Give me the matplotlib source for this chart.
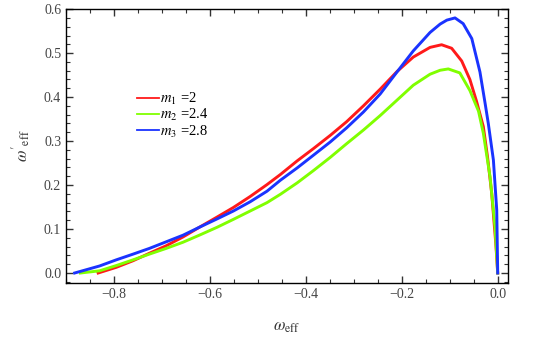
import matplotlib
matplotlib.use("Agg")
import matplotlib.pyplot as plt
from matplotlib.ticker import MultipleLocator, FuncFormatter

plt.rcParams['font.family'] = ['Liberation Serif', 'DejaVu Serif']
plt.rcParams['mathtext.fontset'] = 'stix'

# m1 = 2 (red)
w_m1 = [-0.833, -0.795, -0.760, -0.726, -0.691, -0.656, -0.622, -0.587, -0.551, -0.516,
        -0.481, -0.453, -0.418, -0.384, -0.349, -0.315, -0.280, -0.245, -0.210, -0.176,
        -0.141, -0.117, -0.096, -0.075, -0.058, -0.044, -0.030, -0.021, -0.0125, -0.004, 0.0]
v_m1 = [0.0, 0.013, 0.028, 0.045, 0.062, 0.082, 0.104, 0.126, 0.149, 0.174,
        0.201, 0.224, 0.255, 0.283, 0.313, 0.344, 0.380, 0.418, 0.458, 0.491,
        0.513, 0.519, 0.511, 0.482, 0.440, 0.390, 0.333, 0.262, 0.181, 0.067, 0.0]

# m2 = 2.4 (green)
w_m2 = [-0.870, -0.830, -0.795, -0.760, -0.726, -0.691, -0.656, -0.622, -0.585, -0.551,
        -0.516, -0.481, -0.453, -0.418, -0.384, -0.349, -0.315, -0.280, -0.245, -0.210,
        -0.176, -0.141, -0.120, -0.103, -0.079, -0.058, -0.040, -0.030, -0.016, -0.0056, 0.0]
v_m2 = [0.0, 0.005, 0.017, 0.030, 0.043, 0.056, 0.070, 0.086, 0.104, 0.122,
        0.141, 0.160, 0.179, 0.205, 0.233, 0.263, 0.294, 0.325, 0.358, 0.393,
        0.427, 0.452, 0.461, 0.464, 0.455, 0.415, 0.368, 0.318, 0.219, 0.105, 0.0]

# m3 = 2.8 (blue)
w_m3 = [-0.882, -0.830, -0.795, -0.760, -0.726, -0.691, -0.656, -0.622, -0.587, -0.551,
        -0.516, -0.481, -0.453, -0.418, -0.384, -0.349, -0.315, -0.280, -0.245, -0.210,
        -0.176, -0.141, -0.120, -0.106, -0.089, -0.072, -0.054, -0.037, -0.026, -0.0196,
        -0.009, -0.002, 0.0]
v_m3 = [0.0, 0.016, 0.030, 0.043, 0.056, 0.071, 0.086, 0.104, 0.122, 0.141,
        0.162, 0.186, 0.211, 0.239, 0.268, 0.298, 0.330, 0.366, 0.407, 0.457,
        0.505, 0.547, 0.566, 0.575, 0.580, 0.567, 0.533, 0.457, 0.384, 0.340,
        0.257, 0.143, 0.0]

labels = [r"$m_1$ =2", r"$m_2$ =2.4", r"$m_3$ =2.8"]
colors = ["#ff1a1a", "#80ff00", "#1a33ff"]

fig = plt.figure(figsize=(5.56, 3.48), dpi=100)
ax = fig.add_axes([0.1187, 0.1868, 0.795, 0.787])

for w, v, c, lab in zip([w_m1, w_m2, w_m3], [v_m1, v_m2, v_m3], colors, labels):
    ax.plot(w, v, color=c, lw=2.1, label=lab, solid_joinstyle='round')

ax.set_xlim(-0.9, 0.0215)
ax.set_ylim(-0.0227, 0.6)
ax.xaxis.set_major_locator(MultipleLocator(0.2))
ax.xaxis.set_minor_locator(MultipleLocator(0.05))
ax.yaxis.set_major_locator(MultipleLocator(0.1))
ax.yaxis.set_minor_locator(MultipleLocator(0.02))
ax.xaxis.set_major_formatter(FuncFormatter(lambda x, p: f"{x:.1f}".replace("-", "\u2212")))
ax.yaxis.set_major_formatter(FuncFormatter(lambda x, p: f"{x:.1f}"))
ax.tick_params(which='both', direction='in', top=True, right=True, labelsize=10,
               colors='#333333', labelcolor='#444444')
ax.tick_params(which='major', length=5, width=1)
ax.tick_params(which='minor', length=3, width=0.8)
for s in ax.spines.values():
    s.set_linewidth(1.0)

ax.set_xlabel(r"$\omega_{\rm eff}$", fontsize=12, color='#333333', labelpad=13)
ax.set_ylabel(r"$\omega'_{\rm eff}$", fontsize=12, color='#333333', labelpad=8)

leg = ax.legend(loc='upper left', bbox_to_anchor=(0.16, 0.70), frameon=False,
                borderpad=0, borderaxespad=0,
                handlelength=1.5, handletextpad=0.1, labelspacing=0.0, fontsize=10.5)
for line in leg.get_lines():
    line.set_linewidth(1.3)

fig.savefig("out.png", dpi=100)
